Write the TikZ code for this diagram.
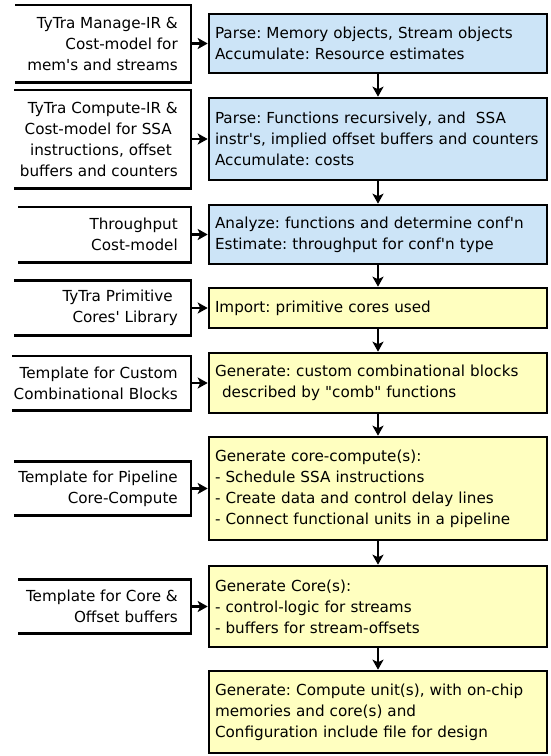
\documentclass[tikz,border=0pt]{standalone}
\usepackage{fontspec}
\setmainfont{DejaVu Sans}[Ligatures=TeXOff]
\usetikzlibrary{arrows.meta}

\definecolor{stageblue}{RGB}{204,228,247}
\definecolor{stageyellow}{RGB}{255,255,192}

\begin{document}
\frenchspacing
\begin{tikzpicture}[x=1pt,y=-1pt,
  font=\fontsize{15.2}{21}\selectfont,
  stage/.style={draw=black, line width=2.6pt, minimum width=338pt,
    text width=326pt, inner xsep=6pt, inner ysep=0pt, align=left},
  bluestage/.style={stage, fill=stageblue},
  yellowstage/.style={stage, fill=stageyellow},
  source/.style={anchor=east, inner xsep=13pt, inner ysep=0pt, align=right},
  frame/.style={draw=black, line width=2.6pt, line join=miter},
  flow/.style={line width=2.4pt, -{Stealth[length=10pt,width=11pt,inset=2.5pt]}}
]
\useasboundingbox (0,0) rectangle (551,756);

% processing stages (right column)
\node[bluestage, minimum height=59pt] (r1) at (378,43.5)
  {Parse: Memory objects, Stream objects\\Accumulate: Resource estimates};
\node[bluestage, minimum height=82pt] (r2) at (378,139)
  {Parse: Functions recursively, and\ \ SSA\\instr's, implied offset buffers and counters\\Accumulate: costs};
\node[bluestage, minimum height=59pt] (r3) at (378,234.5)
  {Analyze: functions and determine conf'n\\Estimate: throughput for conf'n type};
\node[yellowstage, minimum height=40pt] (r4) at (378,308)
  {Import: primitive cores used};
\node[yellowstage, minimum height=60pt] (r5) at (378,383)
  {Generate: custom combinational blocks\\\hspace*{7pt}described by "comb" functions};
\node[yellowstage, minimum height=103pt] (r6) at (378,488.5)
  {Generate core-compute(s):\\- Schedule SSA instructions\\- Create data and control delay lines\\- Connect functional units in a pipeline};
\node[yellowstage, minimum height=81pt] (r7) at (378,606.5)
  {Generate Core(s):\\- control-logic for streams\\- buffers for stream-offsets};
\node[yellowstage, minimum height=82pt] (r8) at (378,712)
  {Generate: Compute unit(s), with on-chip\\memories and core(s) and\\Configuration include file for design};

% inputs (left column)
\node[source, minimum height=77pt] (l1) at (191,43.5)
  {TyTra Manage-IR \&\\Cost-model for\\mem's and streams};
\node[source, minimum height=98pt] (l2) at (191,139)
  {TyTra Compute-IR \&\\Cost-model for SSA\hspace*{6pt}\null\\instructions, offset\hspace*{6pt}\null\\buffers and counters};
\node[source, minimum height=55pt] (l3) at (191,234.5)
  {Throughput\\Cost-model};
\node[source, minimum height=55pt] (l4) at (191,308)
  {TyTra Primitive\hspace*{5pt}\null\\Cores' Library};
\node[source, minimum height=54pt] (l5) at (191,383)
  {Template for Custom\\Combinational Blocks};
\node[source, minimum height=54pt] (l6) at (191,488.5)
  {Template for Pipeline\\Core-Compute};
\node[source, minimum height=54pt] (l7) at (191,606.5)
  {Template for Core \&\\Offset buffers};

% input frames, open on the left
\draw[frame] (l1.north east) ++(-176,0) -- (l1.north east) -- (l1.south east) -- ++(-176,0);
\draw[frame] (l2.north east) ++(-177,0) -- (l2.north east) -- (l2.south east) -- ++(-177,0);
\draw[frame] (l3.north east) ++(-173,0) -- (l3.north east) -- (l3.south east) -- ++(-173,0);
\draw[frame] (l4.north east) ++(-177,0) -- (l4.north east) -- (l4.south east) -- ++(-177,0);
\draw[frame] (l5.north east) ++(-179,0) -- (l5.north east) -- (l5.south east) -- ++(-179,0);
\draw[frame] (l6.north east) ++(-177,0) -- (l6.north east) -- (l6.south east) -- ++(-177,0);
\draw[frame] (l7.north east) ++(-173,0) -- (l7.north east) -- (l7.south east) -- ++(-173,0);

% inputs feeding the stages
\foreach \i in {1,...,7}
  \draw[flow] (l\i.east) -- (r\i.west);

% stage sequence
\foreach \i/\j in {1/2,2/3,3/4,4/5,5/6,6/7,7/8}
  \draw[flow] (r\i.south) -- (r\j.north);
\end{tikzpicture}
\end{document}
